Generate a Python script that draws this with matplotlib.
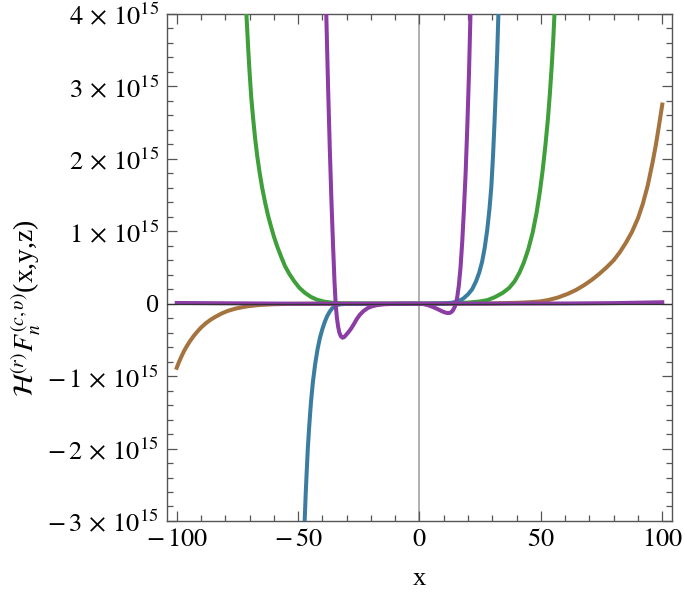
import matplotlib
matplotlib.use('Agg')
import matplotlib.pyplot as plt
from matplotlib.ticker import MultipleLocator, FuncFormatter

# values, y in units of 1e15
green_x = [-71.3, -70.6, -70.0, -69.3, -68.5, -67.7, -66.8, -65.8, -64.8, -63.6, -62.4, -61.2,
           -60.0, -58.6, -57.0, -55.4, -53.6, -51.6, -49.5, -47.2, -44.8, -42.2, -39.5, -36.5,
           -33.0, -28.0, -22.0, 0.0, 10.0, 15.0, 20.0, 24.7, 28.0, 31.0, 34.3, 37.0, 39.2, 41.2,
           43.0, 44.8, 46.6, 48.2, 49.6, 50.8, 51.9, 52.9, 53.7, 54.5, 55.1, 55.6]
green_y = [4.0, 3.55, 3.2, 2.85, 2.55, 2.28, 2.03, 1.80, 1.60, 1.40, 1.22, 1.07,
           0.93, 0.79, 0.65, 0.52, 0.41, 0.31, 0.22, 0.15, 0.095, 0.055, 0.03, 0.015,
           0.006, 0.002, 0.0, 0.0, 0.002, 0.006, 0.015, 0.03, 0.05, 0.09, 0.15, 0.22, 0.31, 0.43,
           0.57, 0.75, 0.98, 1.25, 1.55, 1.86, 2.2, 2.55, 2.9, 3.3, 3.65, 4.0]

purple_x = [-38.4, -37.7, -37.0, -36.3, -35.6, -35.0, -34.5, -34.0, -33.5, -33.0, -32.4, -31.7,
            -31.0, -30.2, -29.2, -28.1, -27.0, -25.8, -24.5, -23.0, -21.3, -19.5, -17.5, -14.5,
            -10.0, -5.0, 0.0, 1.5, 3.5, 5.5, 7.5, 9.3, 10.6, 11.7, 12.7, 13.6, 14.3, 14.9,
            15.5, 16.2, 16.9, 17.6, 18.3, 19.0, 19.7, 20.4, 21.0]
purple_y = [4.0, 3.05, 2.2, 1.45, 0.8, 0.3, -0.02, -0.2, -0.32, -0.40, -0.45, -0.47,
            -0.46, -0.43, -0.39, -0.34, -0.28, -0.21, -0.15, -0.10, -0.06, -0.035, -0.02, -0.008,
            -0.002, 0.0, 0.0, -0.005, -0.02, -0.045, -0.075, -0.105, -0.122, -0.13, -0.125, -0.10,
            -0.06, -0.01, 0.08, 0.25, 0.5, 0.85, 1.3, 1.8, 2.45, 3.2, 4.0]

blue_x = [-47.3, -46.9, -46.5, -46.0, -45.4, -44.7, -43.9, -43.0, -42.0, -41.0, -40.0, -39.0,
          -38.0, -37.0, -36.0, -35.0, -34.0, -32.5, -30.0, -26.0, 0.0, 10.0, 13.0, 15.8, 18.0,
          20.0, 21.7, 23.3, 24.6, 25.8, 26.9, 27.9, 28.8, 29.6, 30.3, 30.9, 31.5, 32.0, 32.5]
blue_y = [-3.0, -2.65, -2.35, -2.0, -1.68, -1.36, -1.08, -0.84, -0.63, -0.47, -0.35, -0.25,
          -0.17, -0.11, -0.065, -0.035, -0.018, -0.008, -0.002, 0.0, 0.0, 0.003, 0.012, 0.03, 0.07,
          0.13, 0.2, 0.31, 0.43, 0.58, 0.78, 1.02, 1.3, 1.62, 2.05, 2.5, 3.0, 3.45, 4.0]

brown_x = [-100.0, -99.0, -98.0, -97.0, -96.0, -94.5, -93.0, -91.5, -90.0, -88.0, -86.0, -84.0,
           -81.5, -79.0, -76.0, -73.0, -70.0, -66.0, -62.0, -56.0, -48.0, -40.0, 0.0, 30.0,
           40.0, 45.0, 49.4, 53.0, 57.0, 61.0, 64.5, 68.0, 71.0, 74.0, 77.0, 80.0, 82.5, 85.0,
           87.5, 90.0, 92.0, 94.0, 96.0, 97.4, 98.7, 100.0]
brown_y = [-0.885, -0.8, -0.725, -0.655, -0.595, -0.515, -0.445, -0.385, -0.33, -0.27, -0.22, -0.18,
           -0.135, -0.1, -0.07, -0.048, -0.032, -0.018, -0.01, -0.004, -0.001, 0.0, 0.0, 0.004,
           0.012, 0.02, 0.03, 0.05, 0.085, 0.135, 0.19, 0.26, 0.33, 0.41, 0.5, 0.6, 0.71, 0.84,
           0.99, 1.18, 1.38, 1.63, 1.95, 2.2, 2.47, 2.75]

flat_x = [-100.0, -50.0, 0.0, 60.0, 80.0, 100.0]
flat_y = [0.01, 0.0, 0.0, 0.003, 0.008, 0.02]

SCALE = 1e15

plt.rcParams['font.family'] = 'serif'
plt.rcParams['font.serif'] = ['Liberation Serif', 'DejaVu Serif']
plt.rcParams['mathtext.fontset'] = 'stix'

fig = plt.figure(figsize=(6.85, 5.95), dpi=100)
ax = fig.add_axes([0.2438, 0.1244, 0.7372, 0.8521])

ax.axvline(0, color='#9a9a9a', lw=1.1, zorder=1)

def sc(vals):
    return [v * SCALE for v in vals]

lw = 2.9
ax.plot(brown_x, sc(brown_y), color='#a5733e', lw=lw, solid_joinstyle='round', zorder=2)
ax.plot(green_x, sc(green_y), color='#3f9f3a', lw=lw, solid_joinstyle='round', zorder=3)
ax.plot(blue_x, sc(blue_y), color='#3b7da0', lw=lw, solid_joinstyle='round', zorder=4)
ax.plot(purple_x, sc(purple_y), color='#8c3ca5', lw=lw, solid_joinstyle='round', zorder=5)
ax.plot(flat_x, sc(flat_y), color='#8c3ca5', lw=lw, solid_joinstyle='round', zorder=6)
ax.axhline(0, color='#333333', lw=0.9, zorder=7)

ax.set_xlim(-104, 104)
ax.set_ylim(-3 * SCALE, 4 * SCALE)

ax.xaxis.set_major_locator(MultipleLocator(50))
ax.xaxis.set_minor_locator(MultipleLocator(10))
ax.yaxis.set_major_locator(MultipleLocator(SCALE))
ax.yaxis.set_minor_locator(MultipleLocator(0.2 * SCALE))

def yfmt(v, pos):
    n = int(round(v / SCALE))
    if n == 0:
        return '0'
    if n < 0:
        return r'$-\,%d\,\times\,10^{15}$' % (-n)
    return r'$%d\,\times\,10^{15}$' % n

def xfmt(v, pos):
    n = int(round(v))
    if n < 0:
        return r'$-\,%d$' % (-n)
    return r'$%d$' % n

ax.yaxis.set_major_formatter(FuncFormatter(yfmt))
ax.xaxis.set_major_formatter(FuncFormatter(xfmt))

for s in ax.spines.values():
    s.set_color('#555555')
    s.set_linewidth(1.0)

ax.tick_params(which='both', direction='in', top=True, right=True, color='#555555',
               labelsize=19, width=0.9)
ax.tick_params(which='major', length=7, pad=6)
ax.tick_params(which='minor', length=4)

ax.set_xlabel('x', fontsize=19, labelpad=12)
ax.set_ylabel(r'$\mathcal{H}^{(r)}F_n^{(c,\upsilon)}$(x,y,z)', fontsize=20)
ax.yaxis.set_label_coords(-0.245, 0.42)

fig.savefig('out.png', dpi=100)
